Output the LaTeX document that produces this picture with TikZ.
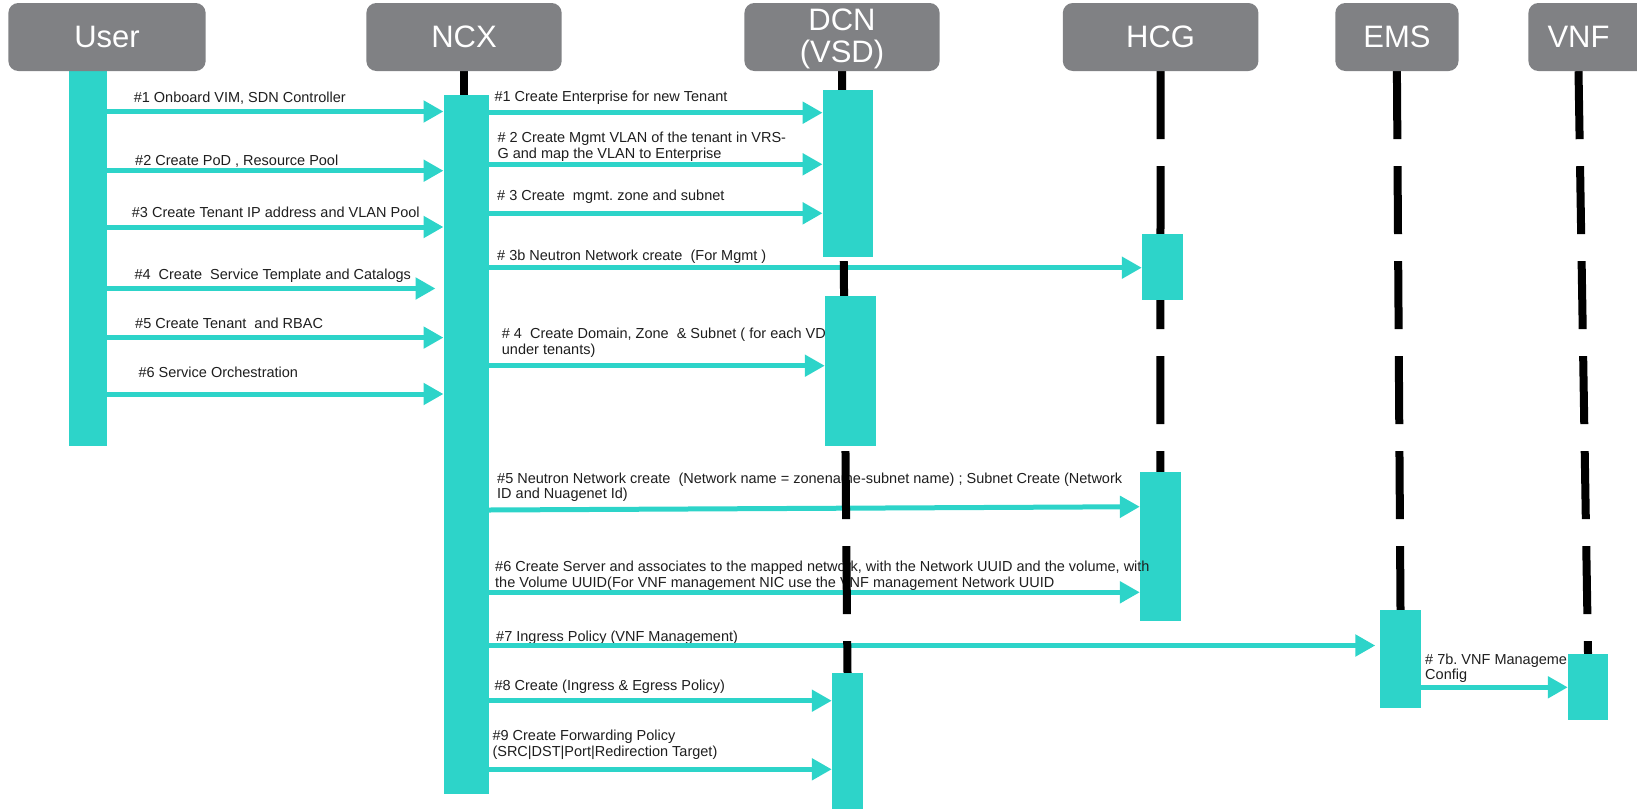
\documentclass[tikz,border=0pt]{standalone}
\usepackage{fontspec}
\setmainfont{Liberation Sans}[Ligatures=CommonOff]
\usetikzlibrary{arrows.meta}
\definecolor{barteal}{HTML}{2DD4C9}
\definecolor{hdrgray}{HTML}{808184}
\definecolor{ink}{HTML}{1E1E1E}
\pgfdeclarelayer{low}
\pgfdeclarelayer{lab}
\pgfdeclarelayer{arr}
\pgfdeclarelayer{life}
\pgfsetlayers{low,lab,arr,life,main}
\frenchspacing
\begin{document}
\begin{tikzpicture}[x=1pt,y=-1pt,
  hdr/.style={fill=hdrgray, rounded corners=10pt, draw=none, inner sep=0pt, minimum height=68pt, text=white, font=\fontsize{31pt}{32pt}\selectfont},
  hdrtxt/.style={text=white, inner sep=0pt, align=center, font=\fontsize{31pt}{32pt}\selectfont},
  bar/.style={fill=barteal, draw=none, inner sep=0pt},
  life/.style={line width=8pt, draw=black, dash pattern=on 68pt off 27pt},
  msg/.style={line width=5pt, draw=barteal, -{Triangle[length=20pt,width=21pt]}},
  lbl/.style={anchor=north west, inner sep=0pt, text=ink, align=left, font=\fontsize{14.5pt}{15.7pt}\selectfont, execute at begin node={\strut}},
]
\useasboundingbox (0,0) rectangle (1637,809);

% activation bars
\node[bar, minimum width=37.6pt, minimum height=376pt] (ub) at (87.7,258) {};
\node[bar, minimum width=45pt, minimum height=699pt] (ncx) at (466.2,444.5) {};
\node[bar, minimum width=50pt, minimum height=166.5pt] (dcn1) at (847.8,173.3) {};
\node[bar, minimum width=51pt, minimum height=150.5pt] (dcn2) at (850.5,370.8) {};
\node[bar, minimum width=31pt, minimum height=135.6pt] (dcn3) at (847.5,741.2) {};
\node[bar, minimum width=41pt, minimum height=66pt] (hcg1) at (1162.5,267) {};
\begin{pgfonlayer}{low}
\node[bar, minimum width=40.5pt, minimum height=149pt] (hcg2) at (1160.3,546.5) {};
\end{pgfonlayer}
\node[bar, minimum width=41pt, minimum height=98pt] (ems) at (1400.5,659) {};
\node[bar, minimum width=40pt, minimum height=66pt] (vnf) at (1588,687) {};

% headers
\node[hdr, minimum width=197.3pt] (huser) at (107,37) {User};
\node[hdr, minimum width=195.3pt] (hncx) at (464,37) {NCX};
\node[hdr, minimum width=195.2pt] (hdcn) at (842,37) {};
\node[hdrtxt, anchor=north] (tdcn) at (842,9) {DCN\\(VSD)};
\node[hdr, minimum width=195.6pt] (hhcg) at (1160.6,37) {HCG};
\node[hdr, minimum width=123.2pt] (hems) at (1396.9,37) {EMS};
\begin{scope}
\clip (0,0) rectangle (1637,809);
\node[hdr, minimum width=131.6pt] (hvnf) at (1594.2,37) {};
\end{scope}
\node[hdrtxt] (tvnf) at (1578.5,37) {VNF};

% lifelines
\begin{pgfonlayer}{life}
\draw[life] (hncx.south) -- (hncx.south |- ncx.north);
\draw[life] (hdcn.south) -- (dcn3.north);
\draw[life] (hhcg.south) -- (hcg2.north);
\draw[life] (hems.south) -- (ems.north);
\draw[life] (tvnf |- hvnf.south) -- (vnf.north);
\end{pgfonlayer}

% messages
\begin{pgfonlayer}{arr}
\draw[msg] (ub.east |- 0,111.5) -- (ncx.west |- 0,111.5);
\draw[msg] (ub.east |- 0,170.7) -- (ncx.west |- 0,170.7);
\draw[msg] (ub.east |- 0,227) -- (ncx.west |- 0,227);
\draw[msg, shorten >=8pt] (ub.east |- 0,288.5) -- (ncx.west |- 0,288.5);
\draw[msg] (ub.east |- 0,337.6) -- (ncx.west |- 0,337.6);
\draw[msg] (ub.east |- 0,394) -- (ncx.west |- 0,394);
\draw[msg] (ncx.east |- 0,112.7) -- (dcn1.west |- 0,112.7);
\draw[msg] (ncx.east |- 0,164.3) -- (dcn1.west |- 0,164.3);
\draw[msg] (ncx.east |- 0,213.3) -- (dcn1.west |- 0,213.3);
\draw[msg] (ncx.east |- 0,267.7) -- (hcg1.west |- 0,267.7);
\draw[msg] (ncx.east |- 0,365.7) -- (dcn2.west |- 0,365.7);
\draw[msg] (ncx.east |- 0,510) -- (hcg2.west |- 0,506.7);
\draw[msg] (ncx.east |- 0,592.3) -- (hcg2.west |- 0,592.3);
\draw[msg, shorten >=4.5pt] (ncx.east |- 0,645.5) -- (ems.west |- 0,645.5);
\draw[msg] (ems.east |- 0,687.3) -- (vnf.west |- 0,687.3);
\draw[msg] (ncx.east |- 0,700.7) -- (dcn3.west |- 0,700.7);
\draw[msg] (ncx.east |- 0,769.3) -- (dcn3.west |- 0,769.3);
\end{pgfonlayer}

% labels
\begin{pgfonlayer}{lab}
\node[lbl] (lu1) at (133.6,91.2) {\#1 Onboard VIM, SDN Controller};
\node[lbl] (lu2) at (135,154.2) {\#2 Create PoD , Resource Pool};
\node[lbl] (lu3) at (131.7,206.2) {\#3 Create Tenant IP address and VLAN Pool};
\node[lbl] (lu4) at (134.3,268.5) {\#4\ \ Create\ \ Service Template and Catalogs};
\node[lbl] (lu5) at (135,316.9) {\#5 Create Tenant\ \ and RBAC};
\node[lbl] (lu6) at (138.3,365.9) {\#6 Service Orchestration};
\node[lbl] (ln1) at (494.3,90.2) {\#1 Create Enterprise for new Tenant};
\node[lbl] (ln2) at (497.3,131.9) {\# 2 Create Mgmt VLAN of the tenant in VRS-\\G and map the VLAN to Enterprise};
\node[lbl] (ln3) at (497,189.2) {\# 3 Create\ \ mgmt. zone and subnet};
\node[lbl] (ln3b) at (497,249.2) {\# 3b Neutron Network create\ \ (For Mgmt )};
\node[lbl] (ln4) at (501.7,328.2) {\# 4\ \ Create Domain, Zone\ \ \& Subnet ( for each VD\\under tenants)};
\node[lbl] (ln5) at (497,472.5) {\#5 Neutron Network create\ \ (Network name = zonename-subnet name) ; Subnet Create (Network\\ID and Nuagenet Id)};
\node[lbl] (ln6) at (495,560.9) {\#6 Create Server and associates to the mapped network, with the Network UUID and the volume, with\\the Volume UUID(For VNF management NIC use the VNF management Network UUID};
\node[lbl] (ln7) at (496,630.2) {\#7 Ingress Policy (VNF Management)};
\node[lbl] (ln8) at (494.3,679.5) {\#8 Create (Ingress \& Egress Policy)};
\node[lbl] (ln9) at (492.3,730.2) {\#9 Create Forwarding Policy\\(SRC|DST|Port|Redirection Target)};
\node[lbl] (le7b) at (1425,653.5) {\# 7b. VNF Manageme\\Config};
\end{pgfonlayer}
\end{tikzpicture}
\end{document}
